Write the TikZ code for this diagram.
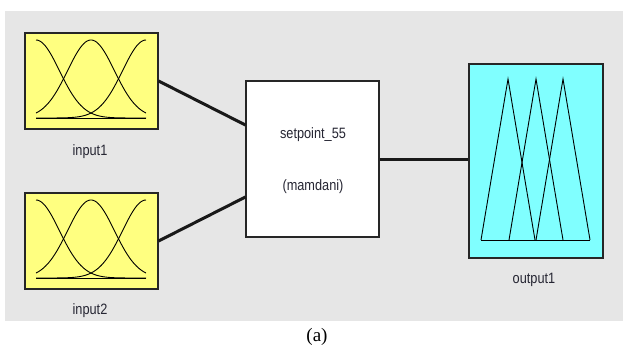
\documentclass[tikz,border=0pt]{standalone}
\usepackage{graphicx}
\usepackage{fontspec}
\setmainfont{Liberation Serif}
\newfontfamily\guifont{Liberation Sans}

\definecolor{panelgray}{HTML}{E6E6E6}
\definecolor{inyellow}{HTML}{FFFF80}
\definecolor{outcyan}{HTML}{80FFFF}
\definecolor{guitext}{HTML}{262633}

\def \linkWidth {3pt}
\def \bellSpread {1100}
\def \guiname #1{\scalebox{0.85}[1]{#1}}

\tikzset{
  mfbox/.style={draw=black!85, line width=1.2pt, inner sep=0pt, minimum width=133pt, minimum height=96pt},
  guilabel/.style={font=\guifont\fontsize{15}{17}\selectfont, text=guitext, inner sep=0pt},
  link/.style={line width=\linkWidth, black!90}
}

\begin{document}
\begin{tikzpicture}[x=1pt, y=-1pt]
   \useasboundingbox (0,0) rectangle (623,349);
   \fill[panelgray] (5,11) rectangle (623,321);

   % boxes
   \node[mfbox, fill=inyellow] (in1) at (91.5,81) {};
   \node[mfbox, fill=inyellow] (in2) at (91.5,241) {};
   \node[mfbox, fill=white, minimum height=156pt] (core) at (312.5,159) {};
   \node[mfbox, fill=outcyan, minimum width=134pt, minimum height=194pt] (out) at (536,161) {};

   % input membership functions
   \foreach \ytop in {33,193} {
      \draw[line width=1pt] (36,\ytop+85) -- (146,\ytop+85);
      \draw[line width=0.9pt] plot[domain=36:146, samples=70] (\x, {\ytop+85-78*exp(-((\x-36)^2)/\bellSpread)});
      \draw[line width=0.9pt] plot[domain=36:146, samples=70] (\x, {\ytop+85-78*exp(-((\x-91)^2)/\bellSpread)});
      \draw[line width=0.9pt] plot[domain=36:146, samples=70] (\x, {\ytop+85-78*exp(-((\x-146)^2)/\bellSpread)});
   }

   % output membership functions
   \draw[line width=1pt] (481,240) -- (590,240);
   \foreach \p in {508,536,563}
      \draw[line width=0.9pt] (\p-27,240) -- (\p,79) -- (\p+27,240);

   % labels
   \node[guilabel] (in1label) at (90,152) {\guiname{input1}};
   \node[guilabel] (in2label) at (90,311) {\guiname{input2}};
   \node[guilabel] (corename) at (313,135) {\guiname{setpoint\_55}};
   \node[guilabel] (coretype) at (313,187) {\guiname{(mamdani)}};
   \node[guilabel] (outlabel) at (534,280) {\guiname{output1}};
   \node[font=\fontsize{19}{21}\selectfont, inner sep=0pt] (caption) at (317,337) {(a)};

   % connections
   \draw[link] (in1.east) -- ([yshift=34pt]core.west);
   \draw[link] (in2.east) -- ([yshift=-38pt]core.west);
   \draw[link] (core.east) -- (core.east -| out.west);
\end{tikzpicture}
\end{document}
